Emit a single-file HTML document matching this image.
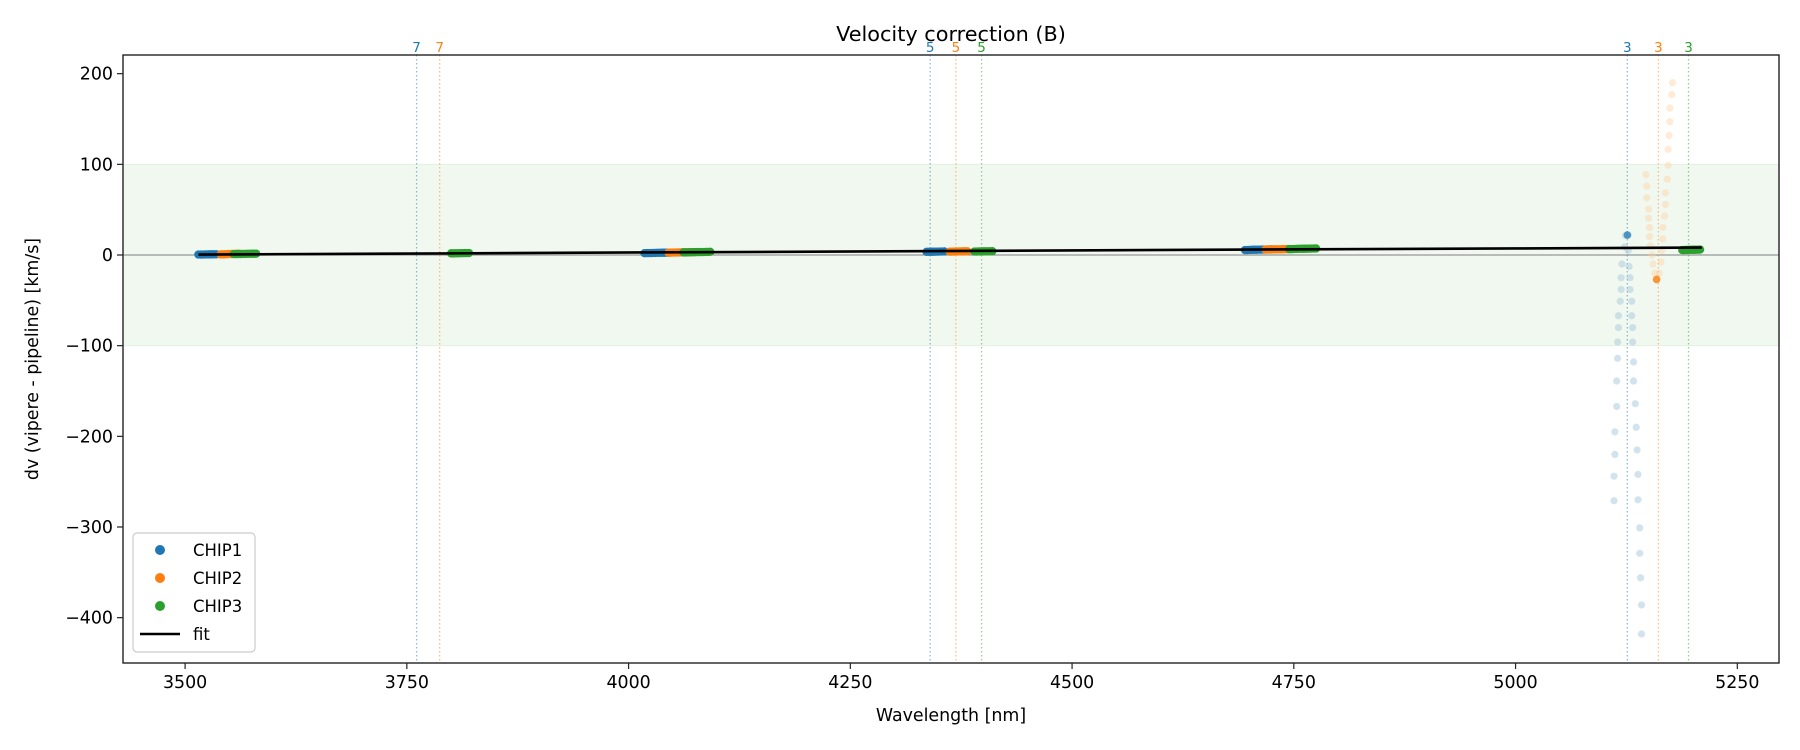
<!DOCTYPE html>
<html><head><meta charset="utf-8"><style>
body{margin:0;background:#fff}
svg{display:block;font-family:"DejaVu Sans","Liberation Sans",sans-serif}
</style></head><body>
<svg id="c" width="1800" height="750"></svg>
<script>
const xDomain=[3430,5297], yDomain=[-450,220.6];
const xTicks=[3500,3750,4000,4250,4500,4750,5000,5250];
const yTicks=[200,100,0,-100,-200,-300,-400];
const bandRange=[-100,100];
const chip1X=[3515,3517.5,3520,3522.5,3525,3527.5,3530,3532.5,3535,4018,4020.5,4023,4025.5,4028,4030.5,4033,4035.5,4038,4040.5,4043,4045,4336,4338.5,4341,4343.5,4346,4348.5,4351,4353.5,4356,4695,4697.5,4700,4702.5,4705,4707.5,4710,4712.5,4715,4717.5,4720,4722.5,4725];
const chip1Y=[0.5,0.5,0.5,0.6,0.6,0.7,0.7,0.8,0.8,2,2.1,2.1,2.2,2.3,2.3,2.4,2.4,2.5,2.5,2.6,2.6,3.5,3.5,3.6,3.6,3.7,3.7,3.8,3.8,3.9,5.5,5.5,5.6,5.7,5.8,5.8,5.9,5.9,6,6,6.1,6.1,6.2];
const chip2X=[3540,3542.5,3545,3547.5,3550,3552.5,3555,3557.5,3560,4045,4047.5,4050,4052.5,4055,4057.5,4060,4062.5,4065,4067.5,4070,4072.5,4075,4362,4364.5,4367,4369.5,4372,4374.5,4377,4379.5,4382,4718,4720.5,4723,4725.5,4728,4730.5,4733,4735.5,4738,4740.5,4743];
const chip2Y=[0.6,0.7,0.8,0.9,1,1.1,1.2,1.3,1.4,2.6,2.6,2.7,2.7,2.8,2.8,2.9,2.9,3,3,3.1,3.1,3.2,3.7,3.7,3.8,3.8,3.9,3.9,4,4,4.1,6,6,6.1,6.1,6.2,6.2,6.3,6.3,6.4,6.4,6.5];
const chip3X=[3555,3557.5,3560,3562.5,3565,3567.5,3570,3572.5,3575,3577.5,3580,3800,3802.5,3805,3807.5,3810,3812.5,3815,3817.5,3820,4062,4064.5,4067,4069.5,4072,4074.5,4077,4079.5,4082,4084.5,4087,4089.5,4092,4390,4392.5,4395,4397.5,4400,4402.5,4405,4407.5,4410,4745,4747.5,4750,4752.5,4755,4757.5,4760,4762.5,4765,4767.5,4770,4772.5,4775,5188,5190,5192,5194,5196,5198,5200,5202,5204,5206,5208];
const chip3Y=[1,1,1.1,1.1,1.2,1.2,1.3,1.3,1.4,1.4,1.5,1.8,1.8,1.9,1.9,2,2,2.1,2.1,2.2,2.9,2.9,3,3,3.1,3.1,3.2,3.2,3.3,3.3,3.4,3.4,3.5,3.8,3.8,3.9,3.9,4,4,4.1,4.1,4.2,6.5,6.5,6.6,6.7,6.8,6.8,6.9,6.9,7,7,7.1,7.1,7.2,5.5,5.5,5.6,5.6,5.7,5.7,5.8,5.8,5.9,5.9,6];
const chip1FaintX=[5124,5123,5120,5119,5119,5118,5116,5116,5115,5115,5114,5114,5112,5112,5111,5111,5127,5127,5128,5129,5129,5131,5131,5132,5132,5133,5133,5135,5136,5137,5138,5138,5140,5140,5141,5142,5142];
const chip1FaintY=[21.6,8.9,-10,-25,-38,-51,-67,-80,-96,-114,-139,-167,-195,-220,-244,-271,22,5,-12.6,-25,-38,-51,-67,-80,-96,-118,-139,-164,-190,-215,-242,-270,-301,-329,-356,-386,-418];
const chip2FaintX=[5147,5148,5148,5150,5150,5151,5151,5152,5154,5155,5157,5159,5162,5164,5165,5166,5166,5168,5169,5169,5171,5172,5172,5173,5174,5174,5176,5177];
const chip2FaintY=[88.7,76,63,50.7,40.6,30.4,20.3,10.2,0,-10,-20,-26.6,-20,-7.6,5,17.8,30.4,43,55.8,68.5,83.6,99,116.6,131.8,147,162,177,190];
const highlightX=[5126,5159], highlightY=[22,-27];
const fitX=[3515,3800,4050,4350,4700,5000,5210];
const fitY=[0.5,1.8,3.0,4.3,6.0,7.2,8.2];
const markerWl=[3761,3787,4340,4369,4398,5126,5161,5195];
const markerLabel=["7","7","5","5","5","3","3","3"];
const markerChip=[0,1,0,1,2,0,1,2];

const L=123,R=1779,T=55,B=663;
const colors=["#1f77b4","#ff7f0e","#2ca02c"];
const X=v=>L+(v-xDomain[0])/(xDomain[1]-xDomain[0])*(R-L);
const Y=v=>B-(v-yDomain[0])/(yDomain[1]-yDomain[0])*(B-T);
const svg=document.getElementById('c');
const NS="http://www.w3.org/2000/svg";
function mk(tag,attrs,parent){const e=document.createElementNS(NS,tag);for(const k in attrs)e.setAttribute(k,attrs[k]);(parent||svg).appendChild(e);return e;}

let e=mk('rect',{x:L,y:Y(bandRange[1]),width:R-L,height:Y(bandRange[0])-Y(bandRange[1]),fill:'#2ca02c','fill-opacity':0.07,stroke:'#2ca02c','stroke-opacity':0.1});


e=mk('line',{x1:L,x2:R,y1:Y(0),y2:Y(0),stroke:'#808080','stroke-width':1});



markerWl.forEach((w,i)=>{
  const c=colors[markerChip[i]];
  let l=mk('line',{x1:X(w),x2:X(w),y1:T,y2:B,stroke:c,'stroke-opacity':0.5,'stroke-width':1.3,'stroke-dasharray':'1.5,2.5'});
  
  
  let t=mk('text',{x:X(w),y:T-3,'text-anchor':'middle','font-size':13.5,fill:c});
  t.textContent=markerLabel[i];
  
  
});

function pts(xs,ys,color,op,name,r){xs.forEach((x,i)=>{let p=mk('circle',{cx:X(x),cy:Y(ys[i]),r:r,fill:color,'fill-opacity':op});

});}
pts(chip1FaintX,chip1FaintY,'#a8c8dc',0.5,'chip1-outlier-point',3.6);
pts(chip2FaintX,chip2FaintY,'#ffcc99',0.4,'chip2-outlier-point',3.6);
pts(chip1X,chip1Y,colors[0],1,'chip1-point',4.2);
pts(chip2X,chip2Y,colors[1],1,'chip2-point',4.2);
pts(chip3X,chip3Y,colors[2],1,'chip3-point',4.2);
pts([highlightX[0]],[highlightY[0]],colors[0],0.7,'chip1-point',3.8);
pts([highlightX[1]],[highlightY[1]],colors[1],0.8,'chip2-point',3.8);

e=mk('polyline',{points:fitX.map((x,i)=>X(x)+','+Y(fitY[i])).join(' '),fill:'none',stroke:'#000','stroke-width':2.6});



e=mk('rect',{x:L,y:T,width:R-L,height:B-T,fill:'none',stroke:'#222','stroke-width':1.4});



xTicks.forEach(v=>{mk('line',{x1:X(v),x2:X(v),y1:B,y2:B+6,stroke:'#222','stroke-width':1.2});
 let t=mk('text',{x:X(v),y:B+25,'text-anchor':'middle','font-size':17.4,fill:'#000'});t.textContent=v;
 
 });
yTicks.forEach(v=>{mk('line',{x1:L-6,x2:L,y1:Y(v),y2:Y(v),stroke:'#222','stroke-width':1.2});
 let t=mk('text',{x:L-10,y:Y(v)+6,'text-anchor':'end','font-size':17.4,fill:'#000'});t.textContent=(v<0?'\u2212'+(-v):v);
 
 });

e=mk('text',{x:(L+R)/2,y:41,'text-anchor':'middle','font-size':20.8});e.textContent='Velocity correction (B)';


e=mk('text',{x:(L+R)/2,y:721,'text-anchor':'middle','font-size':17.4});e.textContent='Wavelength [nm]';


e=mk('text',{x:38,y:(T+B)/2,'text-anchor':'middle','font-size':17.4,transform:'rotate(-90 38 '+(T+B)/2+')'});e.textContent='dv (vipere - pipeline) [km/s]';



const lg=mk('g',{});


mk('rect',{x:133,y:533,width:122,height:119,rx:4,fill:'#fff','fill-opacity':0.8,stroke:'#ccc','stroke-width':1.2},lg);
const names=['CHIP1','CHIP2','CHIP3','fit'];
names.forEach((n,i)=>{const yy=550+i*28;
 if(i<3){mk('circle',{cx:160,cy:yy,r:5,fill:colors[i]},lg);}else{mk('line',{x1:140,x2:180,y1:yy,y2:yy,stroke:'#000','stroke-width':2.6},lg);}
 let t=mk('text',{x:193,y:yy+6,'font-size':16.5},lg);t.textContent=n;
 
 });
</script>
</body></html>
